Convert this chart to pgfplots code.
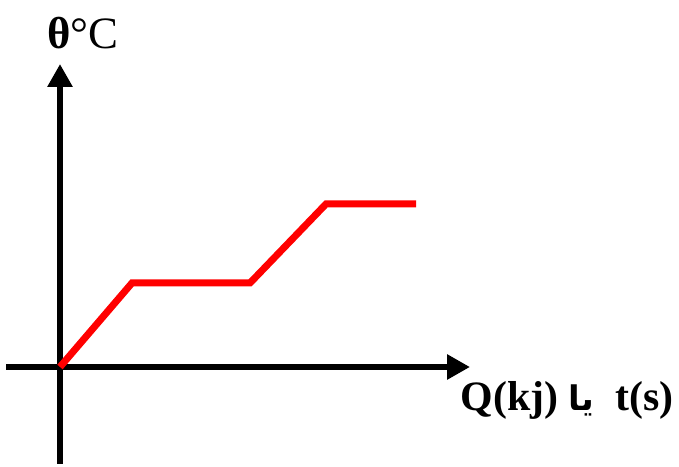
\documentclass[border=0pt]{standalone}
\usepackage{fontspec}
\setmainfont{Liberation Serif}
\newfontfamily\arabicfont[Script=Arabic]{DejaVu Sans}
\usepackage{pgfplots}
\pgfplotsset{compat=1.18}
\usetikzlibrary{arrows.meta}
\TeXXeTstate=1
\begin{document}
\begin{tikzpicture}
\begin{axis}[
  x=1bp, y=1bp,
  scale only axis,
  axis lines=middle,
  xmin=-54, xmax=410, ymin=-97, ymax=303,
  ticks=none,
  axis line style={black, line width=6bp, -{Triangle[width=24bp,length=23bp]}},
  clip=false,
]
\addplot[red, line width=7bp, line join=miter, line cap=butt] coordinates {
  (0,0) (72,84) (190,84) (266,163) (356,163)
};
\useasboundingbox (axis cs:-60,-97) rectangle (axis cs:619,367);
\node[font=\fontsize{45}{48}\selectfont, inner sep=0pt] at (axis cs:23,334) {\textbf{θ}°C};
\node[font=\fontsize{42}{46}\selectfont\bfseries, inner sep=0pt] at (axis cs:507,-33) {Q(kj) {\arabicfont\fontsize{34}{40}\selectfont\beginR یا\endR}\ \ t(s)};
\end{axis}
\end{tikzpicture}
\end{document}
